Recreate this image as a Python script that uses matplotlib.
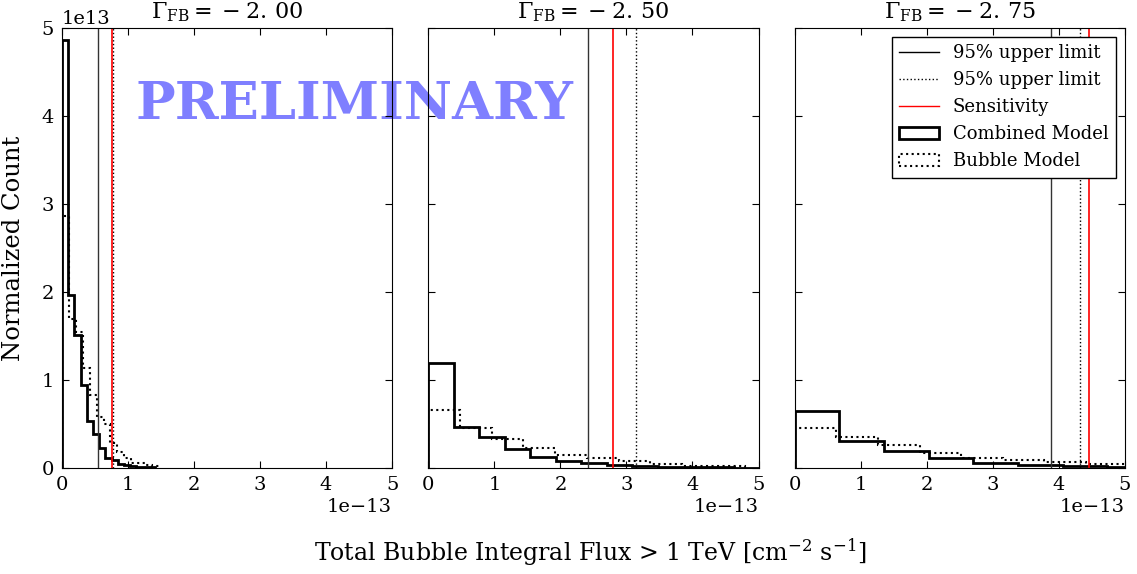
#!/usr/bin/env python3
"""
Upper limit histograms for the bubble integral flux, three spectral indices
"""

import numpy as np
import matplotlib
matplotlib.use('Agg')
import matplotlib.pyplot as plt
from matplotlib.lines import Line2D

plt.rcParams['font.family'] = ['DejaVu Serif']
plt.rcParams['mathtext.fontset'] = 'dejavuserif'
plt.rcParams['font.size'] = 14
plt.rcParams['xtick.direction'] = 'in'
plt.rcParams['ytick.direction'] = 'in'
plt.rcParams['xtick.top'] = True
plt.rcParams['ytick.right'] = True
plt.rcParams['xtick.major.size'] = 5
plt.rcParams['ytick.major.size'] = 5
plt.rcParams['xtick.major.pad'] = 6
plt.rcParams['ytick.major.pad'] = 6

# spectral index of each panel
gammas = [-2.00, -2.50, -2.75]

# bin widths (units of 1e-13 cm^-2 s^-1)
comb_width = [0.094, 0.386, 0.676]
bub_width = [0.105, 0.48, 0.63]

# normalized counts (units of 1e13)
comb_counts = [
    [4.87, 1.96, 1.51, 0.94, 0.53, 0.39, 0.22, 0.11, 0.087, 0.049, 0.03, 0.02, 0.012, 0.008, 0.005],
    [1.19, 0.46, 0.35, 0.216, 0.12, 0.083, 0.05, 0.03, 0.023, 0.011, 0.005, 0.004, 0.003],
    [0.648, 0.307, 0.19, 0.114, 0.057, 0.034, 0.015, 0.01],
]
bub_counts = [
    [2.86, 1.69, 1.55, 1.13, 0.83, 0.58, 0.50, 0.28, 0.18, 0.106, 0.06, 0.05, 0.03, 0.02],
    [0.663, 0.455, 0.33, 0.227, 0.151, 0.114, 0.083, 0.045, 0.023, 0.015],
    [0.455, 0.352, 0.258, 0.163, 0.114, 0.087, 0.068, 0.049],
]

# 95% upper limits and sensitivity (units of 1e-13)
ul_combined = [0.545, 2.42, 3.88]
ul_bubble = [0.78, 3.14, 4.32]
sensitivity = [0.76, 2.79, 4.46]

fig, axes = plt.subplots(1, 3, figsize=(11.37, 5.74), dpi=100, sharey=True)
fig.subplots_adjust(left=0.0545, right=0.9894, top=0.951, bottom=0.185, wspace=0.11)

for i, ax in enumerate(axes):
    ax.set_facecolor('none')
    c_edges = np.arange(len(comb_counts[i]) + 1) * comb_width[i] * 1e-13
    b_edges = np.arange(len(bub_counts[i]) + 1) * bub_width[i] * 1e-13
    c_vals = np.array(comb_counts[i]) * 1e13
    b_vals = np.array(bub_counts[i]) * 1e13

    ax.hist(c_edges[:-1], bins=c_edges, weights=c_vals, histtype='step',
            color='k', lw=2)
    ax.hist(b_edges[:-1], bins=b_edges, weights=b_vals, histtype='step',
            color='k', lw=1.5, ls=':')

    ax.axvline(ul_combined[i] * 1e-13, color='#333333', lw=1)
    ax.axvline(ul_bubble[i] * 1e-13, color='k', lw=1, ls=':')
    ax.axvline(sensitivity[i] * 1e-13, color='red', lw=1.2)

    ax.set_xlim(0, 5e-13)
    ax.set_ylim(0, 5e13)
    ax.set_xticks(np.arange(0, 6) * 1e-13)
    ax.set_yticks(np.arange(0, 6) * 1e13)
    # old mathtext spacing: "= - 2. 00"
    gtxt = ('%.2f' % abs(gammas[i])).replace('.', r'.\,')
    ax.set_title(r'$\Gamma_{\mathrm{FB}} =\:-\;%s$' % gtxt, fontsize=16, pad=7)

axes[0].set_ylabel('Normalized Count', fontsize=17.5)
axes[0].yaxis.set_label_coords(-0.112, 0.5)

handles = [
    Line2D([], [], color='k', lw=1),
    Line2D([], [], color='k', lw=1, ls=':'),
    Line2D([], [], color='red', lw=1),
    plt.Rectangle((0, 0), 1, 1, fc='none', ec='k', lw=2),
    plt.Rectangle((0, 0), 1, 1, fc='none', ec='k', lw=1.5, ls=':'),
]
labels = ['95% upper limit', '95% upper limit', 'Sensitivity',
          'Combined Model', 'Bubble Model']
leg = axes[2].legend(handles, labels, loc='upper right', fontsize=13,
                     fancybox=False, framealpha=1, edgecolor='k',
                     borderaxespad=0.5, handlelength=2.2, labelspacing=0.5)
leg.get_frame().set_linewidth(1)

fig.text(590 / 1137, 1 - 552 / 574, r'Total Bubble Integral Flux > 1 TeV [cm$^{-2}$ s$^{-1}$]',
         ha='center', va='center', fontsize=17)

fig.text(354 / 1137, 1 - 104 / 574, 'PRELIMINARY', color='blue', alpha=0.5,
         fontsize=38, fontweight='bold', ha='center', va='center', zorder=-1)

plt.savefig('out.png', dpi=100)
plt.close()
